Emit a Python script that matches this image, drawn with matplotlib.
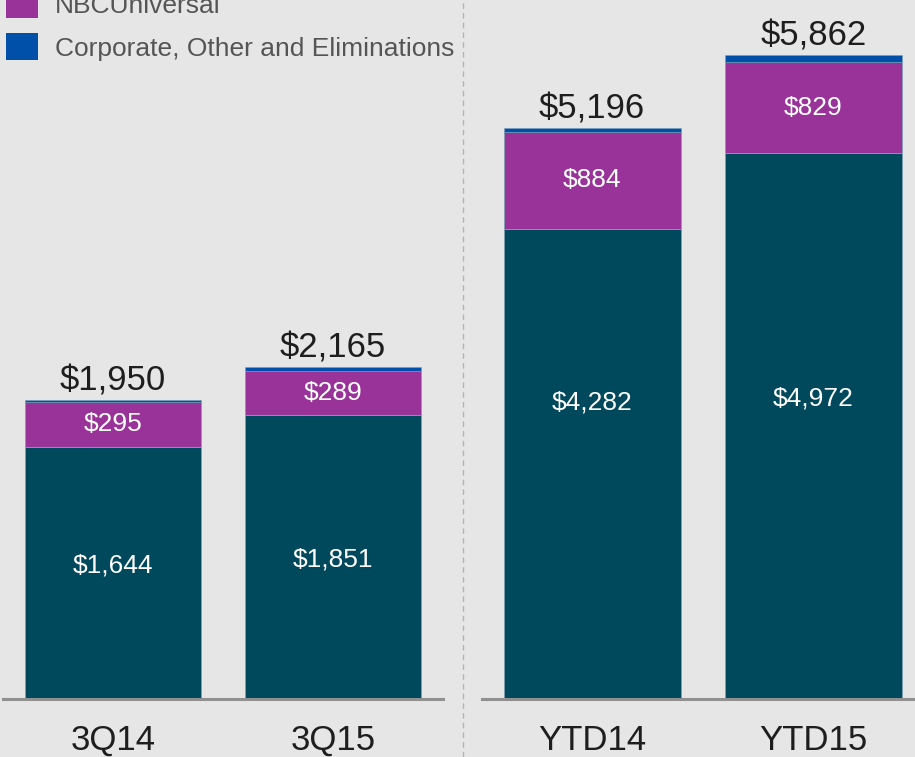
import matplotlib
matplotlib.use('Agg')
import matplotlib.pyplot as plt
from matplotlib.patches import Patch
from matplotlib.lines import Line2D
import numpy as np

plt.rcParams['font.family'] = ['Liberation Sans', 'DejaVu Sans']

# data ($ millions)
quarters = ['3Q14', '3Q15']
ytd = ['YTD14', 'YTD15']
cable_q = [1644, 1851]
nbcu_q = [295, 289]
corp_q = [11, 25]
total_q = [1950, 2165]
cable_ytd = [4282, 4972]
nbcu_ytd = [884, 829]
corp_ytd = [30, 61]
total_ytd = [5196, 5862]
series_names = ['Cable Communications', 'NBCUniversal', 'Corporate, Other and Eliminations']

# where the cable label sits inside its segment (fraction of height)
cable_lbl_frac_q = [0.53, 0.49]
cable_lbl_frac_ytd = [0.63, 0.55]

bg = '#e6e6e6'
c_cable = '#00485c'
c_nbcu = '#993399'
c_corp = '#0050aa'
edge = '#7f9fb4'

fig = plt.figure(figsize=(9.15, 7.57), dpi=100, facecolor=bg)
W, H = 915, 757
base = 699
ax1 = fig.add_axes([3/W, (H-base)/H, (443-3)/W, base/H])
ax2 = fig.add_axes([482/W, (H-base)/H, (915-482)/W, base/H])


def draw(ax, cats, cable, nbcu, corp, total, fracs, ymax, xlim):
    x = np.arange(len(cats))
    ax.set_facecolor(bg)
    b1 = ax.bar(x, cable, 0.8, color=c_cable, edgecolor=edge, linewidth=0.6)
    b2 = ax.bar(x, nbcu, 0.8, bottom=cable, color=c_nbcu, edgecolor=edge, linewidth=0.6)
    bot = np.array(cable) + np.array(nbcu)
    b3 = ax.bar(x, corp, 0.8, bottom=bot, color=c_corp, edgecolor=edge, linewidth=0.4)
    for i in range(len(x)):
        ax.text(x[i], cable[i]*fracs[i], '${:,}'.format(cable[i]), ha='center', va='center',
                color='white', fontsize=19)
    ax.bar_label(b2, labels=['${:,}'.format(v) for v in nbcu], label_type='center',
                 color='white', fontsize=19)
    ax.bar_label(b3, labels=['${:,}'.format(v) for v in total], padding=2,
                 color='#1e1e1e', fontsize=25)
    ax.set_ylim(0, ymax)
    ax.set_xlim(*xlim)
    ax.set_xticks(x)
    ax.set_xticklabels(cats, fontsize=25, color='#1e1e1e')
    ax.tick_params(axis='x', length=0, pad=18)
    ax.set_yticks([])
    for s in ['top', 'left', 'right']:
        ax.spines[s].set_visible(False)
    ax.spines['bottom'].set_color('#909090')
    ax.spines['bottom'].set_linewidth(2.2)


draw(ax1, quarters, cable_q, nbcu_q, corp_q, total_q, cable_lbl_frac_q,
     base/0.1533, (-0.5, 1.5))
draw(ax2, ytd, cable_ytd, nbcu_ytd, corp_ytd, total_ytd, cable_lbl_frac_ytd,
     base/0.1098, (-0.498, 1.46))

# legend (first entry runs off the top of the picture)
handles = [Patch(facecolor=c, edgecolor='none') for c in [c_cable, c_nbcu, c_corp]]
leg = fig.legend(handles, series_names, loc='upper left',
                 bbox_to_anchor=(6/W, 1 + 52/H), frameon=False, fontsize=19,
                 handlelength=1.21, handleheight=1.21, handletextpad=0.64,
                 labelspacing=0.57, borderaxespad=0, borderpad=0)
for t in leg.get_texts():
    t.set_color('#555555')

# dashed divider between quarter and year-to-date panels
fig.add_artist(Line2D([463/W, 463/W], [0, 1], transform=fig.transFigure,
                      color='#b4b4b4', linestyle=(0, (4, 3)), linewidth=1))

fig.savefig('out.png', dpi=100, facecolor=bg)
